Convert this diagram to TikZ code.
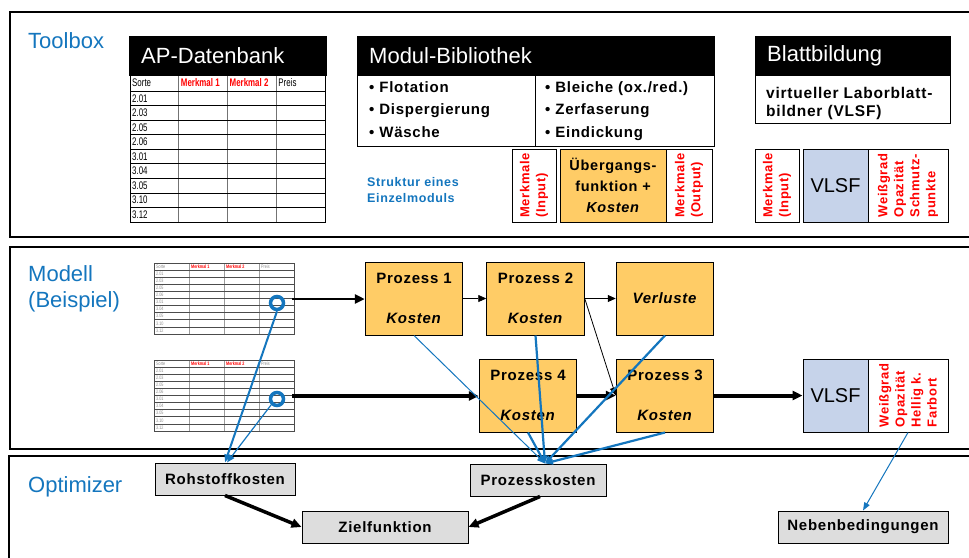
\documentclass[tikz,border=0pt]{standalone}
\usepackage{fontspec}
\usepackage{graphicx}
\setmainfont{Liberation Sans}[BoldFeatures={LetterSpace=5},BoldItalicFeatures={LetterSpace=5}]
\newfontfamily\tabfont{Liberation Sans}
\usetikzlibrary{arrows.meta,calc}
\definecolor{tblue}{RGB}{20,118,190}
\definecolor{porange}{RGB}{255,204,102}
\definecolor{vblue}{RGB}{198,211,234}
\definecolor{lgray}{RGB}{221,221,221}
\definecolor{tred}{RGB}{255,0,0}
\newcommand\fsz[2]{\fontsize{#1}{#2}\selectfont}
\def\tabtxt{black}
% #1 prefix, #2 x0, #3 y0, #4 width, #5 header h, #6 row h, #7 font size, #8 hscale, #9 line colour
\newcommand\aptable[9]{%
  \foreach \k in {0,...,8}{\draw[draw=#9, line width=0.7pt] (#2,{#3+#5+\k*#6}) -- ({#2+#4},{#3+#5+\k*#6});}
  \foreach \f in {0.25,0.5,0.75}{\draw[draw=#9, draw opacity=0.55, line width=0.7pt] ({#2+\f*#4},#3) -- ({#2+\f*#4},{#3+#5+9*#6});}
  \draw[draw=#9, line width=0.8pt] (#2,#3) rectangle ({#2+#4},{#3+#5+9*#6});
  \node[anchor=west, inner sep=0, text=\tabtxt, font=\tabfont\fontsize{#7}{#7}\selectfont] (#1h1) at ({#2+2},{#3+#5/2}) {\scalebox{#8}[1]{Sorte}};
  \node[anchor=west, inner sep=0, text=tred, font=\tabfont\bfseries\fontsize{#7}{#7}\selectfont] (#1h2) at ({#2+0.25*#4+2},{#3+#5/2}) {\scalebox{#8}[1]{Merkmal 1}};
  \node[anchor=west, inner sep=0, text=tred, font=\tabfont\bfseries\fontsize{#7}{#7}\selectfont] (#1h3) at ({#2+0.5*#4+2},{#3+#5/2}) {\scalebox{#8}[1]{Merkmal 2}};
  \node[anchor=west, inner sep=0, text=\tabtxt, font=\tabfont\fontsize{#7}{#7}\selectfont] (#1h4) at ({#2+0.75*#4+2},{#3+#5/2}) {\scalebox{#8}[1]{Preis}};
  \foreach \lab [count=\k from 0] in {2.01,2.03,2.05,2.06,3.01,3.04,3.05,3.10,3.12}{%
    \node[anchor=west, inner sep=0, text=\tabtxt, font=\tabfont\fontsize{#7}{#7}\selectfont] (#1r\k) at ({#2+2},{#3+#5+(\k+0.5)*#6}) {\scalebox{#8}[1]{\lab}};}
}
\begin{document}
\begin{tikzpicture}[x=1pt,y=-1pt,
  panel/.style={draw=black, line width=1.5pt},
  seclabel/.style={text=tblue, font=\fsz{22}{26}, anchor=base west, inner sep=0, align=left},
  header/.style={fill=black, draw=black, text=white, font=\fsz{22}{26}, inner xsep=12pt, inner ysep=0, minimum height=39pt, align=left, anchor=north west},
  item/.style={font=\bfseries\fsz{15}{18}, anchor=base west, inner sep=0},
  plainbox/.style={draw=black, line width=1pt, inner sep=0, minimum height=73pt},
  procbox/.style={draw=black, line width=1pt, fill=porange, minimum width=97.5pt, minimum height=73pt, inner sep=0, align=center, font=\bfseries\fsz{15}{18}},
  rotred/.style={rotate=90, text=tred, font=\bfseries\fsz{13}{16}, align=left, inner sep=0},
  graybox/.style={draw=black, line width=1pt, fill=lgray, inner sep=0, minimum height=32pt, font=\bfseries\fsz{15}{18}},
  blk/.style={draw=black, -{Triangle[length=10pt,width=9pt]}},
  blkthin/.style={draw=black, line width=0.8pt, -{Triangle[length=8pt,width=7pt]}},
  bl/.style={draw=tblue, -{Triangle[length=8pt,width=6pt]}},
  ring/.style={circle, draw=tblue, line width=3.5pt, minimum size=13pt, inner sep=0}
]
\useasboundingbox (0,0) rectangle (969,557);
\fill[white] (0,0) rectangle (969,557);

% panels
\draw[panel] (10,12) rectangle (975,237);
\draw[panel] (10,247) rectangle (975,449);
\draw[panel] (9,456) rectangle (975,570);

% section labels
\node[seclabel] (lTool) at (28,48) {Toolbox};
\node[seclabel, anchor=north west] (lMod) at (28,265) {Modell\\(Beispiel)};
\node[seclabel] (lOpt) at (28,492) {Optimizer};

% ===== Toolbox =====
\node[header, text width=173pt] (apH) at (129,36) {AP-Datenbank};
\node[header, text width=333pt] (modH) at (357,36) {Modul-Bibliothek};
\node[header, text width=171pt] (blH) at (755,36) {Blattbildung};

\def\tabtxt{black}
\aptable{ap}{130}{75}{195}{16}{14.556}{11}{0.72}{black}

\node[draw=black, line width=1pt, minimum width=357pt, minimum height=71pt, anchor=north west, inner sep=0] (modB) at (357,75) {};
\draw[line width=1pt] (535,75) -- (535,146);
\node[item] (ml1) at (369,92) {\textbullet\ Flotation};
\node[item] (ml2) at (369,114) {\textbullet\ Dispergierung};
\node[item] (ml3) at (369,137) {\textbullet\ Wäsche};
\node[item] (mr1) at (545,92) {\textbullet\ Bleiche (ox./red.)};
\node[item] (mr2) at (545,114) {\textbullet\ Zerfaserung};
\node[item] (mr3) at (545,137) {\textbullet\ Eindickung};

\node[draw=black, line width=1pt, minimum width=195pt, minimum height=48pt, anchor=north west, inner sep=0] (blB) at (755,75) {};
\node[item, font=\bfseries\fsz{15.5}{18}] (bl1) at (766,98) {virtueller Laborblatt-};
\node[item, font=\bfseries\fsz{15.5}{18}] (bl2) at (766,116) {bildner (VLSF)};

\node[item, text=tblue, font=\bfseries\fsz{12.5}{16}] (st1) at (367,186) {Struktur eines};
\node[item, text=tblue, font=\bfseries\fsz{12.5}{16}] (st2) at (367,202) {Einzelmoduls};

\node[plainbox, minimum width=44pt] (mIn) at (534,185.5) {};
\node[rotred] (mInT) at (mIn.center) {Merkmale\\(Input)};
\node[procbox, minimum width=106pt, font=\bfseries\fsz{14.5}{21}] (mFn) at (613,185.5) {Übergangs-\\funktion +\\\textit{Kosten}};
\node[plainbox, minimum width=46pt] (mOut) at (689,185.5) {};
\node[rotred] (mOutT) at (mOut.center) {Merkmale\\(Output)};

\node[plainbox, minimum width=44pt] (bIn) at (777,185.5) {};
\node[rotred] (bInT) at (bIn.center) {Merkmale\\(Input)};
\node[plainbox, minimum width=65pt, fill=vblue, font=\fsz{20}{24}] (bV) at (835.5,185.5) {VLSF};
\node[plainbox, minimum width=80pt] (bOut) at (908,185.5) {};
\node[rotred] (bOutT) at (bOut.center) {Weißgrad\\Opazität\\Schmutz-\\punkte};

% ===== Modell =====
\def\tabtxt{black!45}
\aptable{ma}{154}{263}{140}{7}{7.11}{5}{0.75}{black!70}
\aptable{mb}{154}{360}{140}{7}{7.11}{5}{0.75}{black!70}
\node[ring] (c1) at (277,303) {};
\node[ring] (c2) at (277,399) {};
\coordinate (a1) at (292,299);
\coordinate (a2) at (292,396);

\node[procbox] (P1) at (414,298.5) {Prozess 1\\[22pt]\textit{Kosten}};
\node[procbox] (P2) at (535.5,298.5) {Prozess 2\\[22pt]\textit{Kosten}};
\node[procbox] (V) at (665,298.5) {\textit{Verluste}};
\node[procbox] (P4) at (528,395.5) {Prozess 4\\[22pt]\textit{Kosten}};
\node[procbox] (P3) at (665,395.5) {Prozess 3\\[22pt]\textit{Kosten}};
\node[plainbox, minimum width=65pt, fill=vblue, font=\fsz{20}{24}] (mV) at (835.5,395.5) {VLSF};
\node[plainbox, minimum width=80pt] (mO) at (908,395.5) {};
\node[rotred] (mOT) at (mO.center) {Weißgrad\\Opazität\\Hellig k.\\Farbort};

% ===== Optimizer =====
\node[graybox, minimum width=140pt] (RK) at (225,479) {Rohstoffkosten};
\node[graybox, minimum width=136pt] (PK) at (538,480) {Prozesskosten};
\node[graybox, minimum width=166pt] (ZF) at (385,527) {Zielfunktion};
\node[graybox, minimum width=170pt] (NB) at (863,527) {Nebenbedingungen};

% black connectors
\draw[blk, line width=2.5pt] (a1) -- (a1 -| P1.west);
\draw[blkthin] (P1.east) -- (P2.west);
\draw[blkthin] (P2.east) -- (V.west);
\draw[blk, line width=4pt] (a2) -- (a2 -| P4.west);
\draw[blk, line width=4pt] (P4.east) -- (P3.west);
\draw[blkthin] (P2.east) -- (P3.west);
\draw[blk, line width=4pt] (P3.east) -- (mV.west);
\draw[blk, line width=3.5pt] (RK.south) -- (ZF.west);
\draw[blk, line width=3.5pt] ([xshift=2pt]PK.south) -- (ZF.east);

% blue connectors
\coordinate (pkT) at ([xshift=7pt]PK.north);
\draw[bl, line width=2pt] (c1.south) -- (RK.north);
\draw[bl, line width=1.2pt] (c2.south west) -- ([xshift=2pt]RK.north);
\draw[bl, line width=1pt] (P1.south) -- (pkT);
\draw[bl, line width=2.2pt] (P2.south) -- (pkT);
\draw[bl, line width=2.2pt] (V.south) -- (pkT);
\draw[bl, line width=2.2pt] (P4.south) -- (pkT);
\draw[bl, line width=2.2pt] (P3.south) -- (pkT);
\draw[bl, line width=1pt] (mO.south) -- (NB.north);
\end{tikzpicture}
\end{document}
